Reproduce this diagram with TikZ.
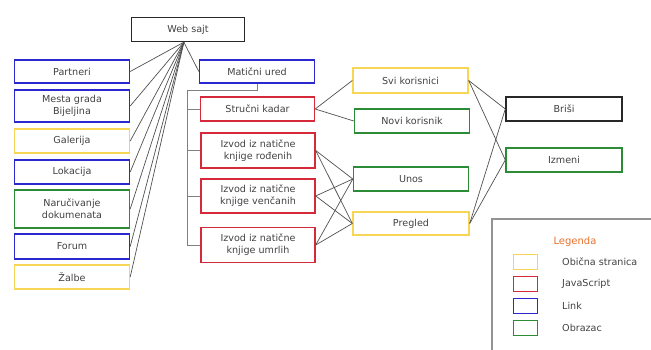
\documentclass[tikz,border=0pt]{standalone}
\usepackage{fontspec}
\setmainfont{DejaVu Sans}
\definecolor{ylw}{RGB}{246,214,84}
\definecolor{rd}{RGB}{214,42,58}
\definecolor{bl}{RGB}{44,40,208}
\definecolor{gr}{RGB}{44,140,54}
\definecolor{blk}{RGB}{40,40,40}
\definecolor{txtgray}{RGB}{65,65,65}
\definecolor{wiregray}{RGB}{80,80,80}
\definecolor{legorange}{RGB}{232,112,44}
\begin{document}
\begin{tikzpicture}[x=1pt,y=-1pt]
        \tikzstyle{page}=[draw,line width=1.4pt,minimum width=115pt,minimum height=24pt,inner sep=1pt,align=center,font=\fontsize{9.6}{12}\selectfont,text=txtgray]
        \tikzstyle{plain page}=[page,draw=ylw]
        \tikzstyle{js page}=[page,draw=rd]
        \tikzstyle{link page}=[page,draw=bl]
        \tikzstyle{form page}=[page,draw=gr]
        \tikzstyle{top page}=[page,draw=blk]
        \tikzstyle{wire}=[draw=wiregray,line width=0.7pt]
        \tikzstyle{tree wire}=[draw=gray,line width=1pt]
        \tikzstyle{swatch}=[draw,line width=1.4pt,minimum width=24pt,minimum height=15pt,inner sep=0pt]
        \tikzstyle{legend text}=[anchor=west,inner sep=0pt,font=\fontsize{9.6}{11}\selectfont,text=txtgray]

        \useasboundingbox (0,0) rectangle (651,349);
        \clip (0,0) rectangle (651,349);

        \node(web)[top page,minimum width=113pt] at (188,29.5) {Web sajt};

        \node(partneri)[link page,minimum height=23pt] at (72,71.5) {Partneri};
        \node(mesta)[link page,minimum height=32pt] at (72,106) {Mesta grada\\Bijeljina};
        \node(galerija)[plain page] at (72,141) {Galerija};
        \node(lokacija)[link page] at (72,172) {Lokacija};
        \node(narucivanje)[form page,minimum height=38pt] at (72,209) {Naručivanje\\dokumenata};
        \node(forum)[link page,minimum height=25pt] at (72,246.5) {Forum};
        \node(zalbe)[plain page] at (72,277) {Žalbe};

        \node(maticni)[link page,minimum height=23pt] at (257,71.5) {Matični ured};
        \node(kadar)[js page,minimum width=114pt] at (257.5,109) {Stručni kadar};
        \node(rodjenih)[js page,minimum width=114pt,minimum height=35pt] at (258,150.5) {Izvod iz natične\\knjige rođenih};
        \node(vencanih)[js page,minimum width=114pt,minimum height=34pt] at (258,196) {Izvod iz natične\\knjige venčanih};
        \node(umrlih)[js page,minimum width=114pt,minimum height=35pt] at (258,245) {Izvod iz natične\\knjige umrlih};

        \node(svi)[plain page,minimum height=25pt] at (410.5,80.5) {Svi korisnici};
        \node(novi)[form page] at (412,121) {Novi korisnik};
        \node(unos)[form page] at (411,179) {Unos};
        \node(pregled)[plain page,minimum width=116pt,minimum height=23pt] at (411,223.5) {Pregled};

        \node(brisi)[top page,minimum width=116pt] at (564,109) {Briši};
        \node(izmeni)[form page,minimum width=116pt] at (564,160) {Izmeni};

        \foreach \n in {partneri,mesta,galerija,lokacija,narucivanje,forum,zalbe}
                \draw[wire] (web.252) -- (\n.east);
        \draw[wire] (web.252) -- (maticni.west);

        \coordinate(trunk) at (187,90);
        \draw[tree wire] (maticni.south) |- (trunk) |- (umrlih.west);
        \foreach \n in {kadar,rodjenih,vencanih}
                \draw[tree wire] (trunk |- \n.west) -- (\n.west);

        \draw[wire] (kadar.east) -- (svi.west);
        \draw[wire] (kadar.east) -- (novi.west);
        \foreach \n in {rodjenih,vencanih,umrlih}{
                \draw[wire] (\n.east) -- (unos.west);
                \draw[wire] (\n.east) -- (pregled.west);
        }
        \foreach \n in {svi,pregled}{
                \draw[wire] (\n.east) -- (brisi.west);
                \draw[wire] (\n.east) -- (izmeni.west);
        }

        \draw[draw=gray!85,line width=1.4pt] (492,360) |- (660,219);
        \node(legenda)[font=\fontsize{10}{12}\selectfont,text=legorange] at (575,242) {Legenda};
        \node(sw1)[swatch,draw=ylw] at (525.5,262) {};
        \node(sw2)[swatch,draw=rd] at (525.5,284) {};
        \node(sw3)[swatch,draw=bl] at (525.5,306) {};
        \node(sw4)[swatch,draw=gr] at (525.5,328) {};
        \node(l1)[legend text] at (562,262) {Obična stranica};
        \node(l2)[legend text] at (562,284) {JavaScript};
        \node(l3)[legend text] at (562,306) {Link};
        \node(l4)[legend text] at (562,328) {Obrazac};
\end{tikzpicture}
\end{document}
